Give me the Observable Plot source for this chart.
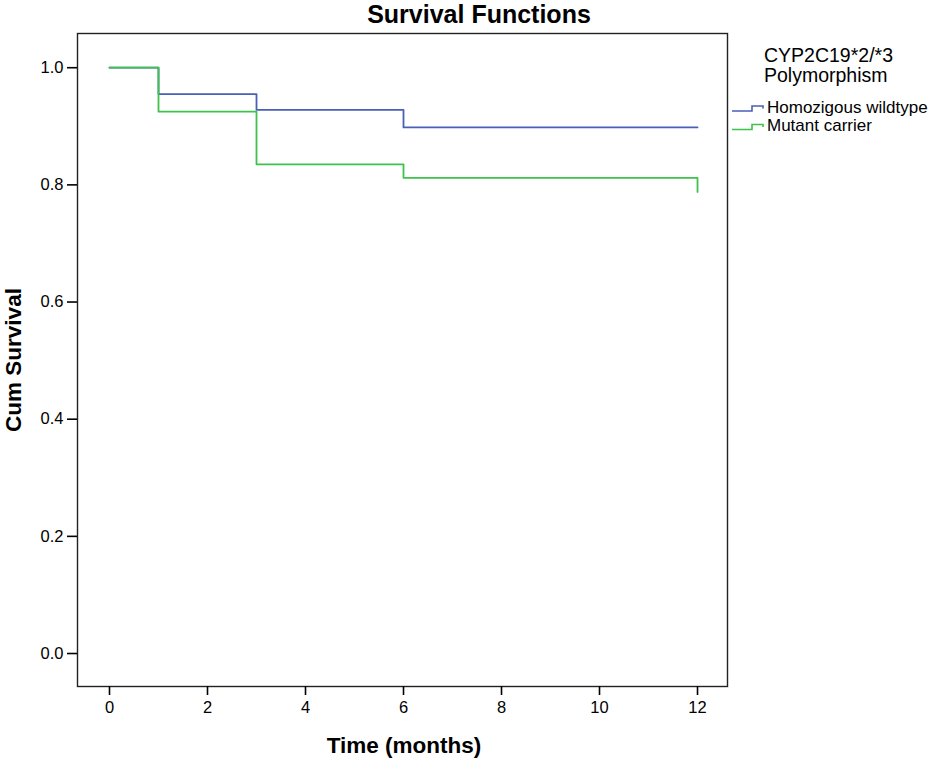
<!DOCTYPE html>
<html>
<head>
<meta charset="utf-8">
<script src="https://cdn.jsdelivr.net/npm/d3@7"></script>
<script src="https://cdn.jsdelivr.net/npm/@observablehq/plot@0.6"></script>
<style>
  html, body { margin: 0; padding: 0; background: #fff; }
</style>
</head>
<body>
<div id="chart"></div>
<script>
// ---- data ----
const groups = ["Homozigous wildtype", "Mutant carrier"];
const groupColors = ["#4a5fb6", "#3ec24c"];
const wildtypeTimes = [0, 1, 3, 6, 12];
const wildtypeSurvival = [1.0, 0.955, 0.928, 0.898, 0.898];
const mutantTimes = [0, 1, 3, 6, 12, 12];
const mutantSurvival = [1.0, 0.925, 0.835, 0.812, 0.812, 0.788];
const xTicks = [0, 2, 4, 6, 8, 10, 12];
const yTicks = [0.0, 0.2, 0.4, 0.6, 0.8, 1.0];
const titleText = "Survival Functions";
const xLabel = "Time (months)";
const yLabel = "Cum Survival";
const legendTitle = ["CYP2C19*2/*3", "Polymorphism"];

const rows = [
  ...wildtypeTimes.map((t, i) => ({ group: groups[0], time: t, surv: wildtypeSurvival[i] })),
  ...mutantTimes.map((t, i) => ({ group: groups[1], time: t, surv: mutantSurvival[i] }))
];

const FONT = "'Liberation Sans', Arial, Helvetica, sans-serif";

const svg = Plot.plot({
  width: 935,
  height: 763,
  marginLeft: 77,
  marginRight: 208,
  marginTop: 33,
  marginBottom: 77,
  style: { fontFamily: FONT, fontSize: "16.5px", color: "#000", background: "#fff" },
  x: { domain: [-0.653, 12.612] },
  y: { domain: [-0.0563, 1.0584] },
  color: { domain: groups, range: groupColors },
  marks: [
    Plot.line(rows, {
      x: "time", y: "surv", z: "group", stroke: "group",
      curve: "step-after", strokeWidth: 1.8
    }),
    Plot.frame({ stroke: "#222", strokeWidth: 1.4 }),
    Plot.axisY({
      ticks: yTicks, tickFormat: d3.format(".1f"),
      tickSize: 10, tickPadding: 4, strokeWidth: 1.6, label: null, fontSize: 16.5
    }),
    Plot.axisX({
      ticks: xTicks, tickFormat: d3.format("d"),
      tickSize: 9, tickPadding: 6, strokeWidth: 1.6, label: null, fontSize: 16.5
    })
  ]
});

document.getElementById("chart").appendChild(svg);

const s = d3.select(svg);

// title
s.append("text")
  .attr("x", 479).attr("y", 23)
  .attr("text-anchor", "middle")
  .attr("font-family", FONT).attr("font-weight", "bold").attr("font-size", 25)
  .attr("fill", "#000")
  .text(titleText);

// x axis label
s.append("text")
  .attr("x", 404).attr("y", 753)
  .attr("text-anchor", "middle")
  .attr("font-family", FONT).attr("font-weight", "bold").attr("font-size", 22.5)
  .attr("fill", "#000")
  .text(xLabel);

// y axis label
s.append("text")
  .attr("transform", "translate(21,360) rotate(-90)")
  .attr("text-anchor", "middle")
  .attr("font-family", FONT).attr("font-weight", "bold").attr("font-size", 22.5)
  .attr("fill", "#000")
  .text(yLabel);

// legend
const lg = s.append("g").attr("font-family", FONT).attr("fill", "#000").attr("text-anchor", "start");
legendTitle.forEach((t, i) => {
  lg.append("text").attr("x", 764).attr("y", 62 + i * 20)
    .attr("text-anchor", "start")
    .attr("font-size", 19.5).text(t);
});
groups.forEach((g, i) => {
  const yb = 111 + i * 18.5;
  lg.append("path")
    .attr("d", `M732,${yb}H752V${yb - 5}H763V${yb - 2.5}`)
    .attr("fill", "none").attr("stroke", groupColors[i]).attr("stroke-width", 1.6);
  lg.append("text").attr("x", 767).attr("y", yb + 1.5)
    .attr("text-anchor", "start")
    .attr("font-size", 17).text(g);
});
</script>
</body>
</html>
